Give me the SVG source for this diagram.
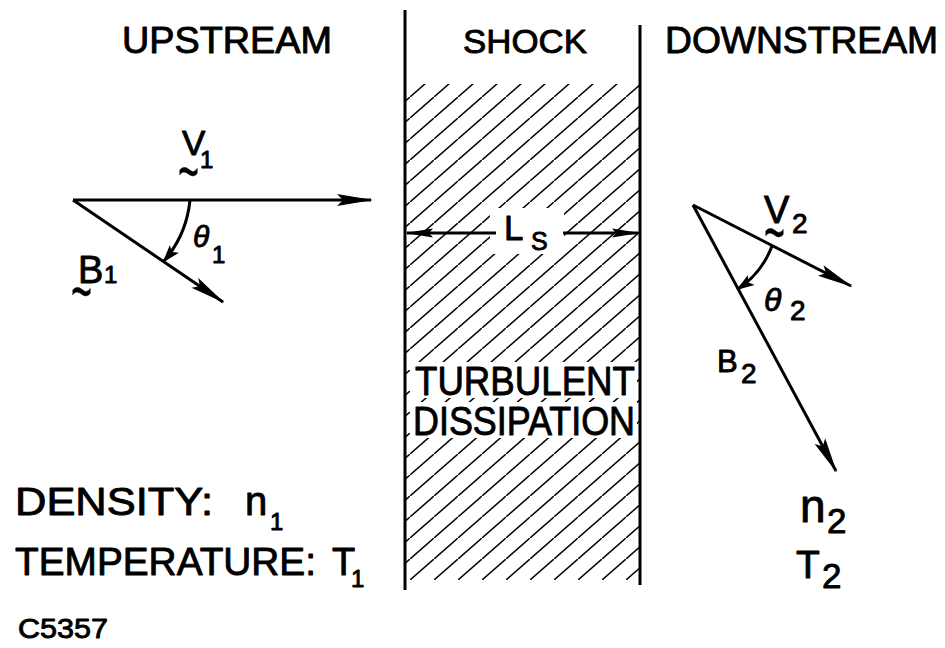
<svg xmlns="http://www.w3.org/2000/svg" width="945" height="648" viewBox="0 0 945 648">
<style>
text{font-family:"Liberation Sans",Arial,sans-serif;fill:#000;stroke:#000;stroke-width:0.9;stroke-linejoin:round}
text.tl{stroke-width:0.2}
.ln{stroke:#000;stroke-width:3;fill:none}
.th{font-style:italic}
</style>
<defs>
<marker id="ah" markerUnits="userSpaceOnUse" viewBox="-36 -7 38 14" refX="0" refY="0" markerWidth="38" markerHeight="14" orient="auto">
<path d="M2,0 L-34,-6 L-28,0 L-34,6 Z" fill="#000"/>
</marker>
<marker id="ahs" markerUnits="userSpaceOnUse" viewBox="-28 -6 30 12" refX="0" refY="0" markerWidth="30" markerHeight="12" orient="auto">
<path d="M2,0 L-26,-4.5 L-22,0 L-26,4.5 Z" fill="#000"/>
</marker>
<marker id="aa" markerUnits="userSpaceOnUse" viewBox="-18 -7 20 14" refX="0" refY="0" markerWidth="20" markerHeight="14" orient="auto">
<path d="M2,0 L-16,-6 L-12,0 L-16,6 Z" fill="#000"/>
</marker>
<pattern id="hatch" patternUnits="userSpaceOnUse" x="410" y="559" width="24" height="21">
<path d="M-4,24.5 L28,-3.5" stroke="#000" stroke-width="1.5"/>
</pattern>
</defs>

<g id="shock">
<rect x="406" y="84" width="233" height="496" fill="url(#hatch)"/>
<rect x="490" y="208" width="74" height="46" fill="#fff"/>
<rect x="410" y="362" width="227" height="36" fill="#fff"/>
<rect x="410" y="402" width="227" height="36" fill="#fff"/>
<line class="ln" x1="405" y1="10" x2="405" y2="590"/>
<line class="ln" x1="640" y1="25" x2="640" y2="585"/>
<text x="463" y="53" font-size="34" textLength="124" lengthAdjust="spacingAndGlyphs">SHOCK</text>
<text x="415" y="395" font-size="40" textLength="220" lengthAdjust="spacingAndGlyphs">TURBULENT</text>
<text x="413" y="435" font-size="40" textLength="222" lengthAdjust="spacingAndGlyphs">DISSIPATION</text>
<text x="504" y="240" font-size="35">L</text>
<text x="531" y="250" font-size="25">S</text>
</g>

<g id="upstream">
<text x="122" y="53" font-size="36" textLength="210" lengthAdjust="spacingAndGlyphs">UPSTREAM</text>
<text x="182" y="155" font-size="35">V</text>
<text x="200" y="168" font-size="24">1</text>
<text class="tl" transform="translate(178,170) scale(1,1.9)" x="0" y="13" font-size="36">~</text>
<text x="78" y="283" font-size="38">B</text>
<text x="104" y="283" font-size="24">1</text>
<text class="tl" transform="translate(71,290) scale(1,1.9)" x="0" y="13" font-size="36">~</text>
<text class="th" x="193" y="247" font-size="30">θ</text>
<text x="212" y="263" font-size="24">1</text>
<text x="15" y="515" font-size="39" textLength="198" lengthAdjust="spacingAndGlyphs">DENSITY:</text>
<text x="245" y="515" font-size="40">n</text>
<text x="270" y="530" font-size="24">1</text>
<text x="15" y="575" font-size="38" textLength="301" lengthAdjust="spacingAndGlyphs">TEMPERATURE:</text>
<text x="332" y="575" font-size="38">T</text>
<text x="351" y="587" font-size="24">1</text>
</g>

<g id="downstream">
<text x="665" y="53" font-size="36" textLength="273" lengthAdjust="spacingAndGlyphs">DOWNSTREAM</text>
<text x="764" y="223" font-size="38">V</text>
<text x="792" y="233" font-size="28">2</text>
<text class="tl" transform="translate(764,231) scale(1,1.9)" x="0" y="13" font-size="36">~</text>
<text class="th" x="764" y="311" font-size="32">θ</text>
<text x="790" y="320" font-size="28">2</text>
<text x="717" y="372" font-size="31">B</text>
<text x="741" y="383" font-size="28">2</text>
<text x="800" y="522" font-size="46">n</text>
<text x="827" y="533" font-size="35">2</text>
<text x="796" y="578" font-size="39">T</text>
<text x="822" y="588" font-size="35">2</text>
</g>

<g id="caption">
<text x="18" y="638" font-size="28" textLength="90" lengthAdjust="spacingAndGlyphs">C5357</text>
</g>

<g id="connectors">
<line class="ln" x1="73" y1="200" x2="371" y2="200" marker-end="url(#ah)"/>
<line class="ln" x1="73" y1="200" x2="223" y2="302" marker-end="url(#ah)"/>
<path class="ln" d="M190,200 A110,110 0 0,1 164,261" stroke-width="2.5" marker-end="url(#aa)"/>
<line class="ln" x1="693" y1="205" x2="851" y2="286" marker-end="url(#ah)"/>
<line class="ln" x1="693" y1="205" x2="836" y2="471" marker-end="url(#ah)"/>
<path class="ln" d="M772,246 A90,90 0 0,1 738,289" stroke-width="2.5" marker-end="url(#aa)"/>
<line class="ln" x1="496" y1="233" x2="407" y2="233" marker-end="url(#ahs)"/>
<line class="ln" x1="563" y1="233" x2="638" y2="233" marker-end="url(#ahs)"/>
</g>
</svg>
